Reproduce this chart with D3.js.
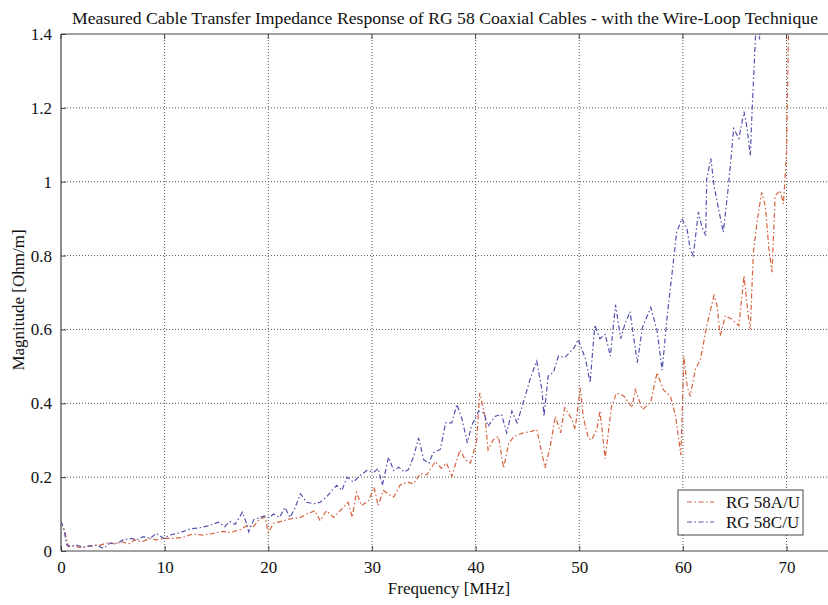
<!DOCTYPE html>
<html>
<head>
<meta charset="utf-8">
<script src="https://cdn.jsdelivr.net/npm/d3@7"></script>
<style>
  html, body { margin: 0; padding: 0; background: #fff; }
  svg { display: block; }
  text { font-family: "Liberation Serif", "Times New Roman", serif; fill: #111; }
</style>
</head>
<body>
<svg id="chart" width="828" height="605"></svg>
<script>
// ---- data ----
const titleText = "Measured Cable Transfer Impedance Response of RG 58 Coaxial Cables - with the Wire-Loop Technique";
const xLabel = "Frequency [MHz]";
const yLabel = "Magnitude [Ohm/m]";
const xTicks = [0, 10, 20, 30, 40, 50, 60, 70];
const yTicks = [0, 0.2, 0.4, 0.6, 0.8, 1, 1.2, 1.4];
const seriesNames = ["RG 58A/U", "RG 58C/U"];

const freqA = [0,0.4,0.7,1.2,1.8,2.5,3.1,3.8,4.6,5.2,5.9,6.5,7.1,7.8,8.6,9.2,10,10.8,11.8,12.7,13.7,14.4,15.6,16.3,17.3,18,18.5,19.2,19.7,20,20.5,21.5,22.1,23.1,23.7,24.5,25,25.6,26.3,27.1,27.7,28.1,28.5,29,29.7,30.2,30.6,31.1,31.8,32.1,32.7,33.4,34,34.7,35.3,36.1,36.7,37.2,37.7,38.5,39,39.5,40.1,40.4,40.9,41.2,41.7,42.2,42.7,43.2,43.7,44.6,45.4,45.9,46.7,47.2,47.7,48.2,48.6,49.3,49.6,50.1,50.4,50.9,51.2,51.7,52,52.5,53.1,53.6,54.3,55.1,55.4,56.1,56.9,57.5,58.1,58.8,59.3,59.8,60.1,60.4,60.7,61.2,61.7,62.3,63,63.3,63.6,64.1,64.7,65.4,65.9,66.3,66.5,66.8,67.2,67.6,67.95,68.3,68.6,68.9,69.4,69.7,70,70.3];
const magA = [0.08,0.048,0.012,0.014,0.01,0.012,0.014,0.016,0.023,0.019,0.025,0.019,0.03,0.025,0.034,0.03,0.034,0.034,0.037,0.046,0.043,0.046,0.053,0.05,0.058,0.07,0.064,0.088,0.091,0.05,0.075,0.082,0.087,0.091,0.1,0.109,0.082,0.109,0.091,0.114,0.132,0.091,0.159,0.123,0.137,0.173,0.123,0.164,0.15,0.146,0.178,0.187,0.182,0.21,0.206,0.242,0.224,0.238,0.202,0.274,0.247,0.238,0.297,0.428,0.365,0.274,0.301,0.31,0.225,0.292,0.31,0.32,0.324,0.329,0.225,0.283,0.365,0.32,0.388,0.356,0.329,0.442,0.36,0.305,0.301,0.33,0.38,0.25,0.39,0.428,0.42,0.388,0.437,0.383,0.403,0.483,0.437,0.419,0.365,0.26,0.528,0.447,0.419,0.492,0.519,0.61,0.692,0.664,0.582,0.637,0.628,0.61,0.745,0.637,0.6,0.809,0.9,0.971,0.935,0.818,0.755,0.962,0.976,0.94,1.08,1.6];

const freqC = [0,0.3,0.55,1,1.5,2.2,2.8,3.4,4.1,4.7,5.4,6,6.8,7.3,7.95,8.6,9.2,9.9,10.5,11.5,12.5,13.4,14.2,15.2,15.8,16.3,16.8,17.5,17.9,18.1,18.6,19.2,19.7,20.1,20.5,21.1,21.6,22.1,22.6,23.1,23.7,24.4,25,25.6,26.6,27.1,27.6,28.2,28.9,29.5,30.2,30.6,31,31.6,32.1,32.6,33.1,33.5,34,34.5,35,35.5,35.9,36.6,37.1,37.7,38.2,38.7,39.2,39.6,40.3,40.8,41.2,41.9,42.5,43,43.5,44,44.5,45.3,45.9,46.4,46.6,47,47.5,48,48.6,49.5,49.9,50.6,51.05,51.5,52,52.5,53,53.5,54,54.4,54.9,55.6,56.1,56.9,57.5,58,58.5,59,59.4,59.9,60.4,60.7,61,61.5,61.8,62.2,62.3,62.7,63,63.5,63.9,64.4,64.9,65.4,65.9,66.2,66.5,66.7,67.1,67.4,67.7];
const magC = [0.08,0.057,0.016,0.012,0.016,0.01,0.014,0.016,0.007,0.021,0.021,0.03,0.034,0.03,0.039,0.034,0.048,0.034,0.043,0.05,0.06,0.063,0.068,0.078,0.066,0.08,0.072,0.105,0.075,0.052,0.085,0.091,0.095,0.09,0.1,0.091,0.118,0.091,0.118,0.155,0.132,0.128,0.132,0.146,0.178,0.164,0.2,0.187,0.205,0.218,0.214,0.223,0.178,0.254,0.218,0.227,0.214,0.22,0.254,0.306,0.247,0.238,0.266,0.275,0.347,0.347,0.397,0.356,0.293,0.338,0.379,0.374,0.338,0.365,0.37,0.32,0.379,0.347,0.392,0.469,0.514,0.437,0.365,0.474,0.483,0.528,0.524,0.55,0.573,0.52,0.456,0.612,0.575,0.587,0.528,0.667,0.575,0.614,0.648,0.51,0.605,0.66,0.598,0.49,0.64,0.763,0.863,0.9,0.872,0.818,0.8,0.918,0.881,0.854,1.008,1.063,0.99,0.918,0.863,0.99,1.144,1.117,1.19,1.144,1.07,1.207,1.45,1.385,1.6];

// ---- layout ----
const svg = d3.select("#chart");
const L = 61, R = 828, T = 34, B = 551;
const x = d3.scaleLinear().domain([0, 74]).range([L, R]);
const y = d3.scaleLinear().domain([0, 1.4]).range([B, T]);
const axisColor = "#444";
const gridColor = "#555";
const colors = ["#d5623e", "#5252ae"];
const dash = "5,2.5,1.5,2.5";

svg.append("defs").append("clipPath").attr("id", "plotclip")
  .append("rect").attr("x", L).attr("y", T).attr("width", R - L).attr("height", B - T);

// grid
const grid = svg.append("g");
grid.selectAll("line.vx").data(xTicks.filter(d => d > 0)).enter().append("line")
  .attr("x1", d => x(d)).attr("x2", d => x(d)).attr("y1", T).attr("y2", B)
  .attr("stroke", gridColor).attr("stroke-width", 1).attr("stroke-dasharray", "1,2");
grid.selectAll("line.hy").data(yTicks.filter(d => d > 0 && d < 1.4)).enter().append("line")
  .attr("x1", L).attr("x2", R).attr("y1", d => y(d)).attr("y2", d => y(d))
  .attr("stroke", gridColor).attr("stroke-width", 1).attr("stroke-dasharray", "1,2");

// axes
const xAxis = d3.axisBottom(x).tickValues(xTicks).tickSize(-5).tickPadding(10).tickFormat(d3.format("d"));
const gx = svg.append("g").attr("transform", `translate(0,${B})`).call(xAxis);
const yAxis = d3.axisLeft(y).tickValues(yTicks).tickSize(-5).tickPadding(9).tickFormat(d => String(+d.toFixed(1)));
const gy = svg.append("g").attr("transform", `translate(${L},0)`).call(yAxis);
[gx, gy].forEach(g => {
  g.select(".domain").remove();
  g.selectAll(".tick line").attr("stroke", axisColor);
  g.selectAll(".tick text").attr("font-family", "Liberation Serif").attr("font-size", 17).attr("fill", "#111");
});
// top ticks
svg.append("g").selectAll("line").data(xTicks).enter().append("line")
  .attr("x1", d => x(d)).attr("x2", d => x(d)).attr("y1", T).attr("y2", T + 5)
  .attr("stroke", axisColor);

// frame
svg.append("line").attr("x1", L).attr("x2", R).attr("y1", B).attr("y2", B).attr("stroke", axisColor).attr("stroke-width", 1.2);
svg.append("line").attr("x1", L).attr("x2", R).attr("y1", T).attr("y2", T).attr("stroke", axisColor).attr("stroke-width", 1.2);
svg.append("line").attr("x1", L).attr("x2", L).attr("y1", T).attr("y2", B).attr("stroke", axisColor).attr("stroke-width", 1.2);

// lines
const line = d3.line().x(d => x(d[0])).y(d => y(d[1]));
const series = [d3.zip(freqA, magA), d3.zip(freqC, magC)];
const plot = svg.append("g").attr("clip-path", "url(#plotclip)");
series.forEach((s, i) => {
  plot.append("path").datum(s).attr("d", line)
    .attr("fill", "none").attr("stroke", colors[i]).attr("stroke-width", 1.2)
    .attr("stroke-dasharray", dash);
});

// legend
const lg = svg.append("g");
lg.append("rect").attr("x", 678).attr("y", 490).attr("width", 125).attr("height", 45)
  .attr("fill", "#fff").attr("stroke", axisColor).attr("stroke-width", 1);
seriesNames.forEach((n, i) => {
  const cy = 502 + i * 20;
  lg.append("line").attr("x1", 687).attr("x2", 714).attr("y1", cy).attr("y2", cy)
    .attr("stroke", colors[i]).attr("stroke-width", 1.2).attr("stroke-dasharray", dash);
  lg.append("text").attr("x", 726).attr("y", cy + 6).attr("font-size", 17).text(n);
});

// titles
svg.append("text").attr("x", 72).attr("y", 24).attr("font-size", 16.5)
  .attr("textLength", 746).attr("lengthAdjust", "spacingAndGlyphs").text(titleText);
svg.append("text").attr("x", 449).attr("y", 594).attr("text-anchor", "middle").attr("font-size", 17).text(xLabel);
svg.append("text").attr("transform", "translate(24,300) rotate(-90)").attr("text-anchor", "middle")
  .attr("font-size", 17).text(yLabel);
</script>
</body>
</html>
